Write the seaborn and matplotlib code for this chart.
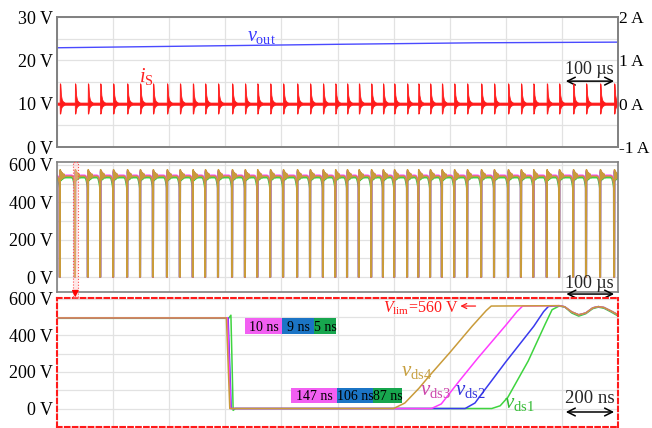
import numpy as np
import pandas as pd
import matplotlib
matplotlib.use("Agg")
import matplotlib.pyplot as plt
import seaborn as sns
from matplotlib.patches import Rectangle, FancyArrowPatch

sns.set_theme(style="white")
plt.rcParams['font.family'] = ['Liberation Serif', 'DejaVu Serif']
plt.rcParams['mathtext.fontset'] = 'custom'
plt.rcParams['mathtext.rm'] = 'Liberation Serif'
plt.rcParams['mathtext.it'] = 'Liberation Serif:italic'

# ---------------- data ----------------
# switching instants (us)
switch_times_us = [5, 32, 55, 77, 100, 125, 148, 171, 196, 219, 242, 264, 287, 312,
                   335, 357, 380, 403, 428, 451, 474, 496, 517, 538, 560, 581, 601,
                   624, 644, 665, 686, 708, 731, 756, 779, 804, 827, 849, 873, 895,
                   920, 943, 968, 993]

# output voltage (V)
vout_t_us = [0, 250, 500, 750, 1000]
vout_v = [22.9, 23.3, 23.7, 24.05, 24.2]

# source current spike envelope (A) relative to each switching instant (us)
is_base = 0.025
spike_off_us = [0, 1.0, 2.0, 3.5, 5.0, 7.0, 9.0]
spike_up_a = [0.47, 0.45, 0.20, 0.10, 0.06, 0.04, 0.025]
spike_lo_a = [-0.23, -0.22, -0.12, -0.07, -0.05, -0.035, -0.025]

# drain-source voltage shape around each switching instant (us) -> V
pulse_off_us = [-6, -4, -2.5, -1.2, -0.6, -0.5, 0.5, 0.8, 1.5, 2.3, 3.2, 4.3, 5.5, 7.0, 8.5, 10.0]
pulse_vds1 = [532, 528, 512, 490, 476, 0, 0, 560, 515, 552, 520, 546, 525, 540, 530, 532]
pulse_vds2 = [540, 538, 530, 512, 500, 0, 0, 566, 522, 560, 528, 553, 532, 546, 536, 540]
pulse_vds3 = [545, 543, 535, 518, 505, 0, 0, 570, 525, 565, 532, 558, 536, 550, 540, 545]
pulse_vds4 = [540, 538, 528, 510, 498, 0, 0, 575, 520, 566, 526, 558, 530, 552, 535, 540]

# zoomed switching transient (ns, V)
vds1_t = [0, 612, 620, 628, 636, 1550, 1580, 1608, 1680, 1740, 1765, 1790, 1810, 1835, 1860, 1885, 1910, 1930, 1950, 1975, 2000]
vds1_v = [493, 493, 510, -10, 0, 0, 15, 63, 260, 460, 540, 560, 555, 522, 505, 518, 546, 554, 548, 528, 506]
vds2_t = [0, 610, 621, 1455, 1490, 1519, 1600, 1700, 1735, 1752, 1790, 1810, 1835, 1860, 1885, 1910, 1930, 1950, 1975, 2000]
vds2_v = [495, 495, 0, 0, 30, 90, 255, 450, 530, 558, 562, 556, 528, 512, 522, 550, 557, 552, 533, 512]
vds3_t = [0, 608, 619, 1335, 1370, 1437, 1500, 1600, 1640, 1660, 1790, 1810, 1835, 1860, 1885, 1910, 1930, 1950, 1975, 2000]
vds3_v = [496, 496, 0, 0, 25, 156, 275, 455, 530, 560, 562, 556, 528, 512, 522, 550, 557, 552, 533, 512]
vds4_t = [0, 604, 616, 1200, 1240, 1290, 1330, 1400, 1480, 1530, 1548, 1790, 1810, 1835, 1860, 1885, 1910, 1930, 1950, 1975, 2000]
vds4_v = [495, 495, 0, 0, 30, 110, 183, 305, 450, 535, 560, 562, 556, 528, 512, 522, 550, 557, 552, 533, 512]

# timing annotations
fall_labels = ["10 ns", "9 ns", "5 ns"]
rise_labels = ["147 ns", "106 ns", "87 ns"]

# ---------------- styling ----------------
C1, C2, C3, C4 = '#3fd43f', '#3a3aee', '#ff3cff', '#c99b3a'
LC1, LC2, LC3, LC4 = '#33bb33', '#3333dd', '#cc44aa', '#c8a040'
BOXC = ['#f25ff2', '#1b74c5', '#17a64e']
GRID = '#e2e2e2'
FS = 13

fig = plt.figure(figsize=(6.52, 4.28), dpi=100)
W, H = 652.0, 428.0
ax1 = fig.add_axes([57 / W, 1 - 147 / H, 561 / W, 130 / H])
ax2 = fig.add_axes([57 / W, 1 - 292 / H, 561 / W, 130 / H])
ax3 = fig.add_axes([57 / W, 1 - 427 / H, 561 / W, 129 / H])


def build_wave(times, offs, vals, t0, t1):
    xs, ys = [t0], [vals[0]]
    for p in times:
        xs += [p + o for o in offs]
        ys += list(vals)
    xs.append(t1)
    ys.append(vals[-1])
    return np.array(xs), np.array(ys)


def style_axes(ax, spine_color='#808080', ls='-', lw=1.2):
    for s in ax.spines.values():
        s.set_color(spine_color)
        s.set_linewidth(lw)
        s.set_linestyle(ls)
    ax.tick_params(axis='both', which='both', length=0, pad=3, labelsize=FS, colors='black')
    ax.set_xticklabels([])
    ax.grid(True, which='both', color=GRID, lw=0.9)
    ax.set_axisbelow(True)
    ax.set_xlabel('')
    ax.set_ylabel('')


# ---------------- panel 1 ----------------
ax1.set_xlim(0, 1000)
ax1.set_ylim(0, 30)
ax1.set_xticks(np.arange(0, 1001, 100))
ax1.set_yticks([0, 10, 20, 30])
ax1.set_yticks([5, 15, 25], minor=True)
ax1.set_yticklabels(['0 V', '10 V', '20 V', '30 V'])
style_axes(ax1)
sns.lineplot(x=vout_t_us, y=vout_v, ax=ax1, color='#4a4aff', lw=1.0, estimator=None, sort=False)

ax1r = ax1.twinx()
ax1r.set_ylim(-1, 2)
ax1r.set_yticks([-1, 0, 1, 2])
ax1r.set_yticklabels(['-1 A', '0 A', '1 A', '2 A'])
ax1r.tick_params(axis='y', which='both', length=0, pad=1, labelsize=12.5, colors='black')
ax1r.grid(False)
for s in ax1r.spines.values():
    s.set_color('#808080')
    s.set_linewidth(1.2)

xs, up, lo = [0], [is_base], [-is_base]
for p in switch_times_us:
    xs += [p - 0.3] + [p + o for o in spike_off_us]
    up += [is_base] + spike_up_a
    lo += [-is_base] + spike_lo_a
xs.append(1000); up.append(is_base); lo.append(-is_base)
ax1r.fill_between(xs, lo, up, color='#ff1a1a', lw=0.6, edgecolor='#ff1a1a')

ax1.text(365, 25.6, r'$v_{\mathrm{out}}$', color='#3a3aff', fontsize=14.5, ha='center', va='center')
ax1.text(159, 16.3, r'$i_{\mathrm{S}}$', color='#ff2020', fontsize=14.5, ha='center', va='center')
ax1.annotate('', xy=(998, 15.2), xytext=(902, 15.2),
             arrowprops=dict(arrowstyle='<->', color='black', lw=1.1, mutation_scale=14))
ax1.text(948, 18.0, '100 µs', fontsize=13, ha='center', va='center')

# ---------------- panel 2 ----------------
ax2.set_xlim(0, 1000)
ax2.set_ylim(-80, 616)
ax2.set_xticks(np.arange(0, 1001, 100))
ax2.set_yticks([0, 200, 400, 600])
ax2.set_yticks([100, 300, 500], minor=True)
ax2.set_yticklabels(['0 V', '200 V', '400 V', '600 V'])
style_axes(ax2)
for vals, col in [(pulse_vds1, C1), (pulse_vds2, C2), (pulse_vds3, C3), (pulse_vds4, C4)]:
    wx, wy = build_wave(switch_times_us, pulse_off_us, vals, 0, 1000)
    sns.lineplot(x=wx, y=wy, ax=ax2, color=col, lw=1.1, estimator=None, sort=False)
ax2.annotate('', xy=(998, -91), xytext=(903, -91), annotation_clip=False,
             arrowprops=dict(arrowstyle='<->', color='black', lw=1.1, mutation_scale=14))
ax2.text(948, -33, '100 µs', fontsize=13, ha='center', va='center')

# highlight box and arrow down to the zoom panel
fig.add_artist(Rectangle((72.7 / W, 1 - 298 / H), 5.3 / W, 136 / H, transform=fig.transFigure,
                         facecolor=(1, 0.75, 0.75, 0.35), edgecolor='#ff5050', lw=0.8, ls=':'))
fig.add_artist(FancyArrowPatch((75.3 / W, 1 - 289 / H), (75.3 / W, 1 - 300 / H),
                               transform=fig.transFigure, arrowstyle='-|>', mutation_scale=10,
                               color='red', lw=0.8))

# ---------------- panel 3 ----------------
ax3.set_xlim(0, 2000)
ax3.set_ylim(-101, 604)
ax3.set_xticks(np.arange(0, 2001, 200))
ax3.set_yticks([0, 200, 400, 600])
ax3.set_yticks([100, 300, 500], minor=True)
ax3.set_yticklabels(['0 V', '200 V', '400 V', '600 V'])
style_axes(ax3, spine_color='#ff1a1a', ls=(0, (2.2, 1.6)), lw=1.5)
for tt, vv, col in [(vds1_t, vds1_v, C1), (vds2_t, vds2_v, C2), (vds3_t, vds3_v, C3), (vds4_t, vds4_v, C4)]:
    sns.lineplot(x=tt, y=vv, ax=ax3, color=col, lw=1.1, estimator=None, sort=False)

# timing boxes
rows = [(fall_labels, [670, 802, 916, 995], 405, 87),
        (rise_labels, [834, 998, 1127, 1230], 30, 82)]
for labels, edges, y0, h in rows:
    for i, lab in enumerate(labels):
        ax3.add_patch(Rectangle((edges[i], y0), edges[i + 1] - edges[i], h,
                                facecolor=BOXC[i], edgecolor='none', zorder=3))
        ax3.text((edges[i] + edges[i + 1]) / 2, y0 + h / 2 - 3, lab, fontsize=10,
                 ha='center', va='center', color='black', zorder=4)

ax3.text(1283, 205, r'$v_{\mathrm{ds4}}$', color=LC4, fontsize=15, ha='center', va='center')
ax3.text(1351, 96, r'$v_{\mathrm{ds3}}$', color=LC3, fontsize=15, ha='center', va='center')
ax3.text(1472, 101, r'$v_{\mathrm{ds2}}$', color=LC2, fontsize=15, ha='center', va='center')
ax3.text(1647, 25, r'$v_{\mathrm{ds1}}$', color=LC1, fontsize=15, ha='center', va='center')

ax3.text(1298, 549, r'$V_{\mathrm{lim}}$=560 V', color='#ff1a1a', fontsize=11.5, ha='center', va='center')
ax3.annotate('', xy=(1428, 560), xytext=(1502, 560),
             arrowprops=dict(arrowstyle='->', color='#ff1a1a', lw=0.9, mutation_scale=9))

ax3.annotate('', xy=(1996, -19), xytext=(1804, -19),
             arrowprops=dict(arrowstyle='<->', color='black', lw=1.1, mutation_scale=14))
ax3.text(1900, 57, '200 ns', fontsize=13.5, ha='center', va='center')

fig.savefig('out.png', dpi=100)
